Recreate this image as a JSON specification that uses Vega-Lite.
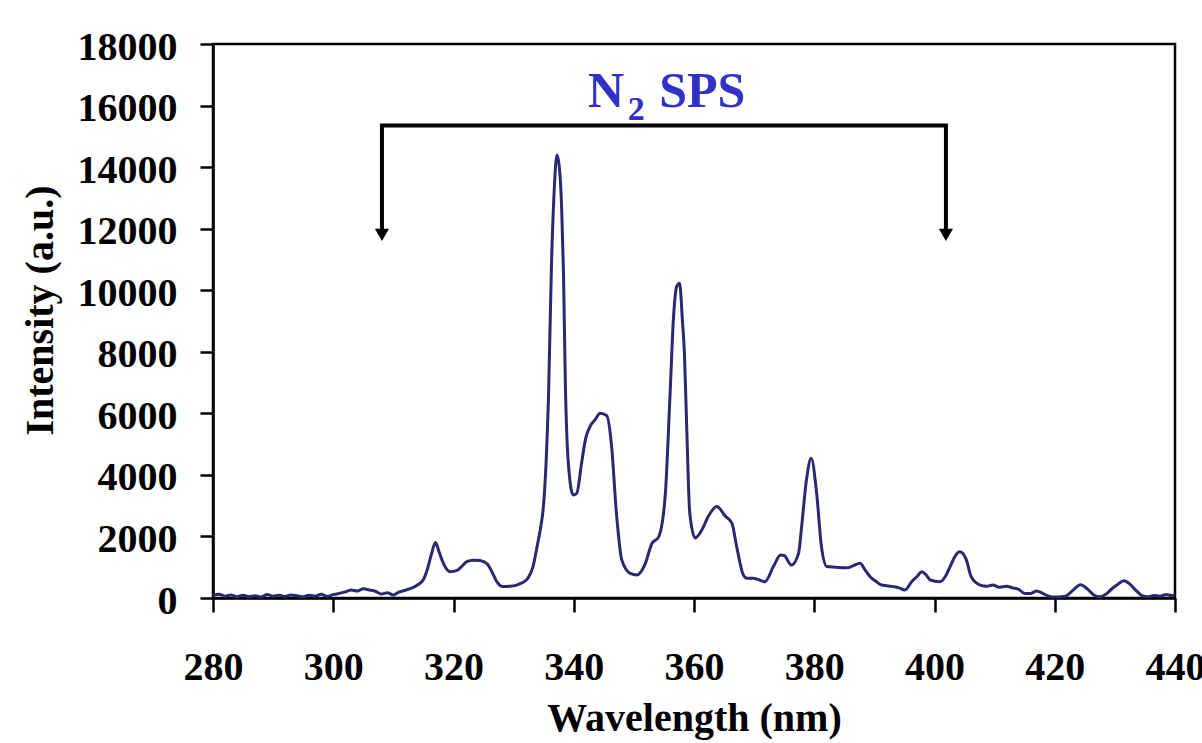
{
  "$schema": "https://vega.github.io/schema/vega-lite/v6.json",
  "width": 962,
  "height": 554,
  "autosize": {"type": "none"},
  "padding": {"left": 213, "top": 44, "right": 27, "bottom": 145},
  "background": "white",
  "config": {"view": {"stroke": "black", "strokeWidth": 2.5}, "font": "Liberation Serif"},
  "datasets": {
    "spectrum": [
      {"wavelength": 280, "intensity": 80}, {"wavelength": 281, "intensity": 120}, {"wavelength": 282, "intensity": 60},
      {"wavelength": 283, "intensity": 100}, {"wavelength": 284, "intensity": 40}, {"wavelength": 285, "intensity": 90},
      {"wavelength": 286, "intensity": 50}, {"wavelength": 287, "intensity": 70}, {"wavelength": 288, "intensity": 30},
      {"wavelength": 289, "intensity": 110}, {"wavelength": 290, "intensity": 60}, {"wavelength": 291, "intensity": 90},
      {"wavelength": 292, "intensity": 50}, {"wavelength": 293, "intensity": 100}, {"wavelength": 294, "intensity": 70},
      {"wavelength": 295, "intensity": 40}, {"wavelength": 296, "intensity": 90}, {"wavelength": 297, "intensity": 60},
      {"wavelength": 298, "intensity": 120}, {"wavelength": 299, "intensity": 50}, {"wavelength": 300, "intensity": 110},
      {"wavelength": 301, "intensity": 150}, {"wavelength": 302, "intensity": 200}, {"wavelength": 303, "intensity": 260},
      {"wavelength": 304, "intensity": 230}, {"wavelength": 305, "intensity": 300}, {"wavelength": 306, "intensity": 260},
      {"wavelength": 307, "intensity": 220}, {"wavelength": 308, "intensity": 130}, {"wavelength": 309, "intensity": 170},
      {"wavelength": 310, "intensity": 100}, {"wavelength": 311, "intensity": 200}, {"wavelength": 312, "intensity": 250},
      {"wavelength": 313, "intensity": 320}, {"wavelength": 314, "intensity": 420}, {"wavelength": 315, "intensity": 600},
      {"wavelength": 315.6, "intensity": 900}, {"wavelength": 316.3, "intensity": 1400}, {"wavelength": 317, "intensity": 1800},
      {"wavelength": 317.6, "intensity": 1500}, {"wavelength": 318.3, "intensity": 1130}, {"wavelength": 319.4, "intensity": 855},
      {"wavelength": 320.6, "intensity": 900}, {"wavelength": 321.5, "intensity": 1050}, {"wavelength": 322.2, "intensity": 1180},
      {"wavelength": 323.3, "intensity": 1230}, {"wavelength": 324.4, "intensity": 1220}, {"wavelength": 325.6, "intensity": 1110},
      {"wavelength": 326.4, "intensity": 850}, {"wavelength": 327.2, "intensity": 530}, {"wavelength": 328.2, "intensity": 370},
      {"wavelength": 329.3, "intensity": 380}, {"wavelength": 330.5, "intensity": 420}, {"wavelength": 331.5, "intensity": 500},
      {"wavelength": 332.4, "intensity": 650}, {"wavelength": 333.2, "intensity": 1000}, {"wavelength": 333.9, "intensity": 1670},
      {"wavelength": 334.5, "intensity": 2300}, {"wavelength": 334.9, "intensity": 2860}, {"wavelength": 335.4, "intensity": 4400},
      {"wavelength": 335.8, "intensity": 6540}, {"wavelength": 336.3, "intensity": 10870}, {"wavelength": 336.7, "intensity": 13040},
      {"wavelength": 337.2, "intensity": 14390}, {"wavelength": 337.6, "intensity": 14000}, {"wavelength": 338.0, "intensity": 12600},
      {"wavelength": 338.3, "intensity": 10500}, {"wavelength": 338.6, "intensity": 7000}, {"wavelength": 339.1, "intensity": 4380},
      {"wavelength": 339.9, "intensity": 3350}, {"wavelength": 340.5, "intensity": 3400}, {"wavelength": 341.3, "intensity": 4380},
      {"wavelength": 342.0, "intensity": 5200}, {"wavelength": 342.7, "intensity": 5570}, {"wavelength": 343.5, "intensity": 5780},
      {"wavelength": 344.4, "intensity": 6000}, {"wavelength": 345.5, "intensity": 5920}, {"wavelength": 346.3, "intensity": 4920},
      {"wavelength": 347.1, "intensity": 2750}, {"wavelength": 348.0, "intensity": 1230}, {"wavelength": 349.4, "intensity": 800},
      {"wavelength": 350.5, "intensity": 750}, {"wavelength": 351.9, "intensity": 1120}, {"wavelength": 353.0, "intensity": 1770},
      {"wavelength": 354.1, "intensity": 1980}, {"wavelength": 355.2, "intensity": 3290}, {"wavelength": 356.0, "intensity": 6540},
      {"wavelength": 356.6, "intensity": 9140}, {"wavelength": 357.1, "intensity": 10110}, {"wavelength": 357.6, "intensity": 10230},
      {"wavelength": 358.1, "intensity": 8930}, {"wavelength": 358.4, "intensity": 8000}, {"wavelength": 358.8, "intensity": 5460},
      {"wavelength": 359.3, "intensity": 2750}, {"wavelength": 360.2, "intensity": 1950}, {"wavelength": 361.3, "intensity": 2210},
      {"wavelength": 362.4, "intensity": 2660}, {"wavelength": 363.8, "intensity": 2970}, {"wavelength": 365.2, "intensity": 2660},
      {"wavelength": 366.3, "intensity": 2430}, {"wavelength": 367.1, "intensity": 1670}, {"wavelength": 368.2, "intensity": 750},
      {"wavelength": 368.8, "intensity": 640}, {"wavelength": 369.9, "intensity": 640}, {"wavelength": 371.8, "intensity": 530},
      {"wavelength": 373.2, "intensity": 1020}, {"wavelength": 374.4, "intensity": 1400}, {"wavelength": 375.0, "intensity": 1380},
      {"wavelength": 376.2, "intensity": 1070}, {"wavelength": 377.4, "intensity": 1460}, {"wavelength": 377.9, "intensity": 2320},
      {"wavelength": 378.7, "intensity": 3830}, {"wavelength": 379.5, "intensity": 4540}, {"wavelength": 380.4, "intensity": 3400},
      {"wavelength": 381.2, "intensity": 1670}, {"wavelength": 382.1, "intensity": 1020}, {"wavelength": 383.5, "intensity": 1000},
      {"wavelength": 385.4, "intensity": 980}, {"wavelength": 386.5, "intensity": 1050}, {"wavelength": 387.6, "intensity": 1130},
      {"wavelength": 388.5, "intensity": 900}, {"wavelength": 389.3, "intensity": 690}, {"wavelength": 390.2, "intensity": 550},
      {"wavelength": 391.2, "intensity": 420}, {"wavelength": 392.1, "intensity": 400}, {"wavelength": 393.1, "intensity": 370},
      {"wavelength": 394.1, "intensity": 330}, {"wavelength": 395.1, "intensity": 260}, {"wavelength": 396.2, "intensity": 530},
      {"wavelength": 397.1, "intensity": 700}, {"wavelength": 397.9, "intensity": 855}, {"wavelength": 398.6, "intensity": 750},
      {"wavelength": 399.3, "intensity": 585}, {"wavelength": 400.9, "intensity": 530}, {"wavelength": 401.8, "intensity": 700},
      {"wavelength": 402.6, "intensity": 1020}, {"wavelength": 403.4, "intensity": 1350}, {"wavelength": 404.2, "intensity": 1500},
      {"wavelength": 405.3, "intensity": 1240}, {"wavelength": 406.1, "intensity": 690}, {"wavelength": 407.6, "intensity": 420},
      {"wavelength": 408.7, "intensity": 380}, {"wavelength": 409.7, "intensity": 420}, {"wavelength": 410.8, "intensity": 350},
      {"wavelength": 412, "intensity": 380}, {"wavelength": 413, "intensity": 330}, {"wavelength": 414, "intensity": 280},
      {"wavelength": 415, "intensity": 150}, {"wavelength": 416, "intensity": 150}, {"wavelength": 417, "intensity": 230},
      {"wavelength": 418, "intensity": 150}, {"wavelength": 419, "intensity": 60}, {"wavelength": 420, "intensity": 30},
      {"wavelength": 421, "intensity": 40}, {"wavelength": 422, "intensity": 80}, {"wavelength": 423, "intensity": 250},
      {"wavelength": 424.3, "intensity": 430}, {"wavelength": 425.5, "intensity": 280}, {"wavelength": 426.5, "intensity": 100},
      {"wavelength": 427.5, "intensity": 40}, {"wavelength": 428.5, "intensity": 120}, {"wavelength": 429.5, "intensity": 300},
      {"wavelength": 430.5, "intensity": 450}, {"wavelength": 431.5, "intensity": 560}, {"wavelength": 432.5, "intensity": 450},
      {"wavelength": 433.5, "intensity": 250}, {"wavelength": 434.5, "intensity": 80}, {"wavelength": 435.5, "intensity": 40},
      {"wavelength": 436.5, "intensity": 80}, {"wavelength": 437.5, "intensity": 60}, {"wavelength": 438.5, "intensity": 110},
      {"wavelength": 439.5, "intensity": 80}, {"wavelength": 440, "intensity": 100}
    ],
    "bracket": [
      {"i": 1, "x": 308.1, "y": 11950},
      {"i": 2, "x": 308.1, "y": 15352},
      {"i": 3, "x": 401.9, "y": 15352},
      {"i": 4, "x": 401.9, "y": 11950}
    ],
    "arrows": [
      {"x": 308.1, "y": 11800},
      {"x": 401.9, "y": 11800}
    ]
  },
  "layer": [
    {
      "data": {"name": "spectrum"},
      "mark": {"type": "line", "color": "#2a2870", "strokeWidth": 3, "interpolate": "monotone"},
      "encoding": {
        "x": {
          "field": "wavelength", "type": "quantitative",
          "scale": {"domain": [280, 440], "nice": false, "zero": false},
          "axis": {
            "values": [280, 300, 320, 340, 360, 380, 400, 420, 440],
            "grid": false, "domainColor": "black", "domainWidth": 2.5,
            "tickColor": "black", "tickWidth": 2.5, "tickSize": 14,
            "labelFont": "Liberation Serif", "labelFontWeight": "bold", "labelFontSize": 40, "labelColor": "black",
            "labelBaseline": "alphabetic", "labelPadding": 67, "labelFlush": false, "labelOverlap": false, "labelBound": false,
            "title": "Wavelength (nm)", "titleFont": "Liberation Serif", "titleFontWeight": "bold", "titleFontSize": 40,
            "titleColor": "black", "titleBaseline": "alphabetic", "titleY": 132
          }
        },
        "y": {
          "field": "intensity", "type": "quantitative",
          "scale": {"domain": [0, 18000], "nice": false},
          "axis": {
            "values": [0, 2000, 4000, 6000, 8000, 10000, 12000, 14000, 16000, 18000],
            "format": "d", "grid": false, "domainColor": "black", "domainWidth": 2.5,
            "tickColor": "black", "tickWidth": 2.5, "tickSize": 13,
            "labelFont": "Liberation Serif", "labelFontWeight": "bold", "labelFontSize": 40, "labelColor": "black",
            "labelBaseline": "alphabetic", "labelOffset": 15, "labelPadding": 23, "labelFlush": false, "labelOverlap": false, "labelBound": false,
            "title": "Intensity (a.u.)", "titleFont": "Liberation Serif", "titleFontWeight": "bold", "titleFontSize": 40,
            "titleColor": "black", "titleBaseline": "alphabetic", "titleAngle": 270, "titleAlign": "center", "titleX": -161, "titleY": 266
          }
        }
      }
    },
    {
      "data": {"name": "bracket"},
      "mark": {"type": "line", "color": "black", "strokeWidth": 4, "strokeJoin": "miter"},
      "encoding": {
        "x": {"field": "x", "type": "quantitative"},
        "y": {"field": "y", "type": "quantitative"},
        "order": {"field": "i", "type": "quantitative"}
      }
    },
    {
      "data": {"name": "arrows"},
      "mark": {"type": "point", "shape": "triangle-down", "filled": true, "color": "black", "size": 200, "opacity": 1},
      "encoding": {
        "x": {"field": "x", "type": "quantitative"},
        "y": {"field": "y", "type": "quantitative"}
      }
    },
    {
      "data": {"values": [{}]},
      "mark": {"type": "text", "text": "N", "font": "Liberation Serif", "fontWeight": "bold", "fontSize": 50, "color": "#3131c8", "align": "left", "baseline": "alphabetic"},
      "encoding": {"x": {"datum": 342.37}, "y": {"datum": 15953}}
    },
    {
      "data": {"values": [{}]},
      "mark": {"type": "text", "text": "2", "font": "Liberation Serif", "fontWeight": "bold", "fontSize": 34, "color": "#3131c8", "align": "left", "baseline": "alphabetic"},
      "encoding": {"x": {"datum": 349.0}, "y": {"datum": 15530}}
    },
    {
      "data": {"values": [{}]},
      "mark": {"type": "text", "text": "SPS", "font": "Liberation Serif", "fontWeight": "bold", "fontSize": 50, "color": "#3131c8", "align": "left", "baseline": "alphabetic"},
      "encoding": {"x": {"datum": 354.2}, "y": {"datum": 15953}}
    }
  ]
}
